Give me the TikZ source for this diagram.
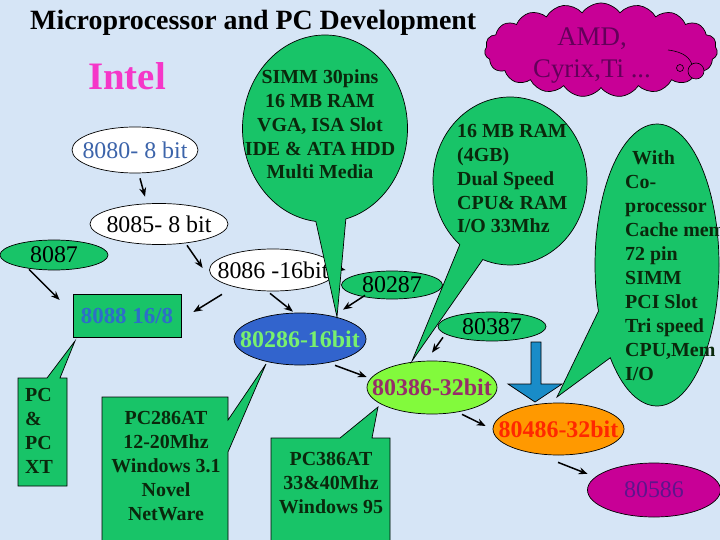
\documentclass[tikz,border=0pt]{standalone}
\usepackage{fontspec}
\setmainfont{Liberation Serif}
\usetikzlibrary{shapes.geometric,shapes.callouts,shapes.symbols,arrows.meta,calc}
\definecolor{bgblue}{RGB}{214,229,246}
\definecolor{cgreen}{RGB}{24,196,104}
\definecolor{ctx}{RGB}{10,40,12}
\definecolor{intelpink}{RGB}{245,55,200}
\definecolor{c8080}{RGB}{60,100,170}
\definecolor{c8088}{RGB}{45,110,200}
\definecolor{c286fill}{RGB}{50,100,205}
\definecolor{c286txt}{RGB}{120,240,110}
\definecolor{c386fill}{RGB}{130,250,60}
\definecolor{c386txt}{RGB}{150,45,105}
\definecolor{c486fill}{RGB}{255,153,0}
\definecolor{c486txt}{RGB}{255,40,0}
\definecolor{cmag}{RGB}{200,0,150}
\definecolor{c586txt}{RGB}{95,20,140}
\definecolor{amdtxt}{RGB}{100,0,90}
\definecolor{arrowblue}{RGB}{25,140,200}
\begin{document}
\begin{tikzpicture}[x=1bp,y=-1bp,
  ell/.style={ellipse, draw=black, line width=0.7bp, inner sep=0pt},
  num/.style={font=\fontsize{24}{28}\selectfont},
  bnum/.style={font=\bfseries\fontsize{24}{28}\selectfont},
  arr/.style={-{Stealth[length=9bp,width=7bp]}, line width=1.5bp, draw=black},
  gshape/.style={draw=black, line width=0.7bp, fill=cgreen},
  ctext/.style={font=\bfseries\fontsize{20}{24}\selectfont, text=ctx, inner sep=0pt}]
\useasboundingbox (0,0) rectangle (720,540);
\clip (0,0) rectangle (720,540);
\fill[bgblue] (0,0) rectangle (720,540);

% titles
\node[anchor=base west, inner sep=0pt, font=\bfseries\fontsize{28}{30}\selectfont] (title) at (30,30) {Microprocessor and PC Development};
\node[anchor=base west, inner sep=0pt, font=\bfseries\fontsize{39}{44}\selectfont, text=intelpink] (intel) at (88,90) {Intel};

% processor nodes
\node[ell, fill=white, minimum width=126bp, minimum height=46bp, num, text=c8080] (n8080) at (135,150) {\makebox[0pt]{8080- 8 bit}};
\node[ell, fill=white, minimum width=138bp, minimum height=41bp, num] (n8085) at (159,224) {\makebox[0pt]{8085- 8 bit}};
\node[ell, fill=cgreen, minimum width=108bp, minimum height=30bp, num] (n8087) at (54,255) {\makebox[0pt]{8087}};
\node[ell, fill=white, minimum width=127bp, minimum height=42bp, num] (n8086) at (273,270) {\makebox[0pt]{8086 -16bit}};
\node[draw=black, line width=0.7bp, fill=cgreen, minimum width=108bp, minimum height=43bp, inner sep=0pt, font=\bfseries\fontsize{23}{26}\selectfont, text=c8088] (n8088) at (127,315.5) {\makebox[0pt]{8088 16/8}};
\node[ell, fill=cgreen, minimum width=101bp, minimum height=28bp, num] (n80287) at (392,285) {\makebox[0pt]{80287}};
\node[ell, fill=c286fill, minimum width=132bp, minimum height=52bp, bnum, text=c286txt] (n80286) at (300,339) {\makebox[0pt]{80286-16bit}};
\node[ell, fill=cgreen, minimum width=108bp, minimum height=29bp, num] (n80387) at (492,326.5) {\makebox[0pt]{80387}};
\node[ell, fill=c386fill, minimum width=130bp, minimum height=53bp, bnum, text=c386txt] (n80386) at (432,387.5) {\makebox[0pt]{80386-32bit}};
\node[ell, fill=c486fill, minimum width=131bp, minimum height=52bp, bnum, text=c486txt] (n80486) at (558.5,429) {\makebox[0pt]{80486-32bit}};
\node[ell, fill=cmag, minimum width=133bp, minimum height=54bp, num, text=c586txt] (n80586) at (654,490) {\makebox[0pt]{80586}};

% arrows
\draw[arr] ($(n8080.south)+(5,5)$) -- ($(n8085.north)+(-14,-6.5)$);
\draw[arr] ($(n8085.south)+(28,0.5)$) -- ($(n8086.west)+(-6.5,-2)$);
\draw[arr] ($(n8087.south)+(-25,-1)$) -- ($(n8088.west)+(-13,-15.5)$);
\draw[arr] ($(n8086.south)+(-51,3)$) -- ($(n8088.east)+(12,-3.5)$);
\draw[arr] ($(n8086.south)+(-3,2)$) -- ($(n80286.north)+(-7,-1)$);
\draw[arr] ($(n80287.south)+(-27,-4)$) -- ($(n80286.north)+(43,-3)$);
\draw[arr] ($(n80286.south)+(35,0)$) -- ($(n80386.west)+(0,-10.5)$);
\draw[arr] ($(n80387.south)+(-49,-4)$) -- ($(n80386.north)+(0,-8)$);
\draw[arr] ($(n80386.south)+(30,0)$) -- ($(n80486.west)+(-7,-3)$);
\draw[arr] ($(n80486.south)+(-0.5,7)$) -- ($(n80586.west)+(0.5,-16)$);
\draw[arr] ($(n8086.east)+(-6.5,-3)$) -- ($(n80287.west)+(4.5,-15)$);

% block arrow
\path[draw=black, line width=0.7bp, fill=arrowblue] (531,342) -- (541,342) -- (541,384) -- (562,384) -- (535,402) -- (508,384) -- (531,384) -- cycle;

% callouts
\node[ellipse callout, gshape, inner sep=0pt, minimum width=165bp, minimum height=187bp, callout absolute pointer={(337,317)}, callout pointer arc=21] (call1) at (325,128.5) {};
\node[ellipse callout, gshape, inner sep=0pt, minimum width=154bp, minimum height=168bp, callout absolute pointer={(412,361)}, callout pointer arc=20] (call2) at (510,181) {};
\node[ellipse callout, gshape, inner sep=0pt, minimum width=124bp, minimum height=282bp, callout absolute pointer={(557,397)}, callout pointer arc=22] (call3) at (657,265) {};
\path[gshape] (18,378) -- (47,378) -- (75,341) -- (60,378) -- (67,378) -- (67,486) -- (18,486) -- cycle;
\path[gshape] (102,397) -- (228,397) -- (228,420) -- (266,364) -- (228,452) -- (228,560) -- (102,560) -- cycle;
\path[gshape] (271,438) -- (340,438) -- (378,407) -- (372,438) -- (390,438) -- (390,560) -- (271,560) -- cycle;

% callout texts (anchor = baseline of last line)
\node[ctext, align=center, anchor=base] (t1) at (320,179) {SIMM 30pins\\16 MB RAM\\VGA, ISA Slot\\IDE \& ATA HDD\\Multi Media};
\node[ctext, align=left, anchor=base west] (t2) at (457,233) {16 MB RAM\\(4GB)\\Dual Speed\\CPU\& RAM\\I/O 33Mhz};
\node[ctext, align=left, anchor=base west] (t3) at (625,380) {\hspace{7bp}With\\Co-\\processor\\Cache mem\\72 pin\\SIMM\\PCI Slot\\Tri speed\\CPU,Mem\\I/O};
\node[ctext, align=left, anchor=base west] (t4) at (25,473) {PC\\\&\\PC\\XT};
\node[ctext, align=center, anchor=base] (t5) at (166,520) {PC286AT\\12-20Mhz\\Windows 3.1\\Novel\\NetWare};
\node[ctext, align=center, anchor=base] (t6) at (331,513) {PC386AT\\33\&40Mhz\\Windows 95};

% cloud
\node[cloud, cloud puffs=19, cloud puff arc=110, aspect=2.5, draw=black, line width=0.7bp, fill=cmag, minimum width=233bp, minimum height=94bp, inner sep=0pt] (amd) at (601,50) {};
\draw[line width=0.6bp] (668,50) .. controls (684,52) and (690,58) .. (692,65);
\draw[line width=0.6bp, fill=cmag] (680,68) circle[radius=3.5];
\draw[line width=0.6bp, fill=cmag] (696,71) circle[radius=8];
\node[align=center, anchor=base, inner sep=0pt, font=\fontsize{27}{33}\selectfont, text=amdtxt] (amdtxt) at (592,78) {AMD,\\Cyrix,Ti ...};
\end{tikzpicture}
\end{document}
